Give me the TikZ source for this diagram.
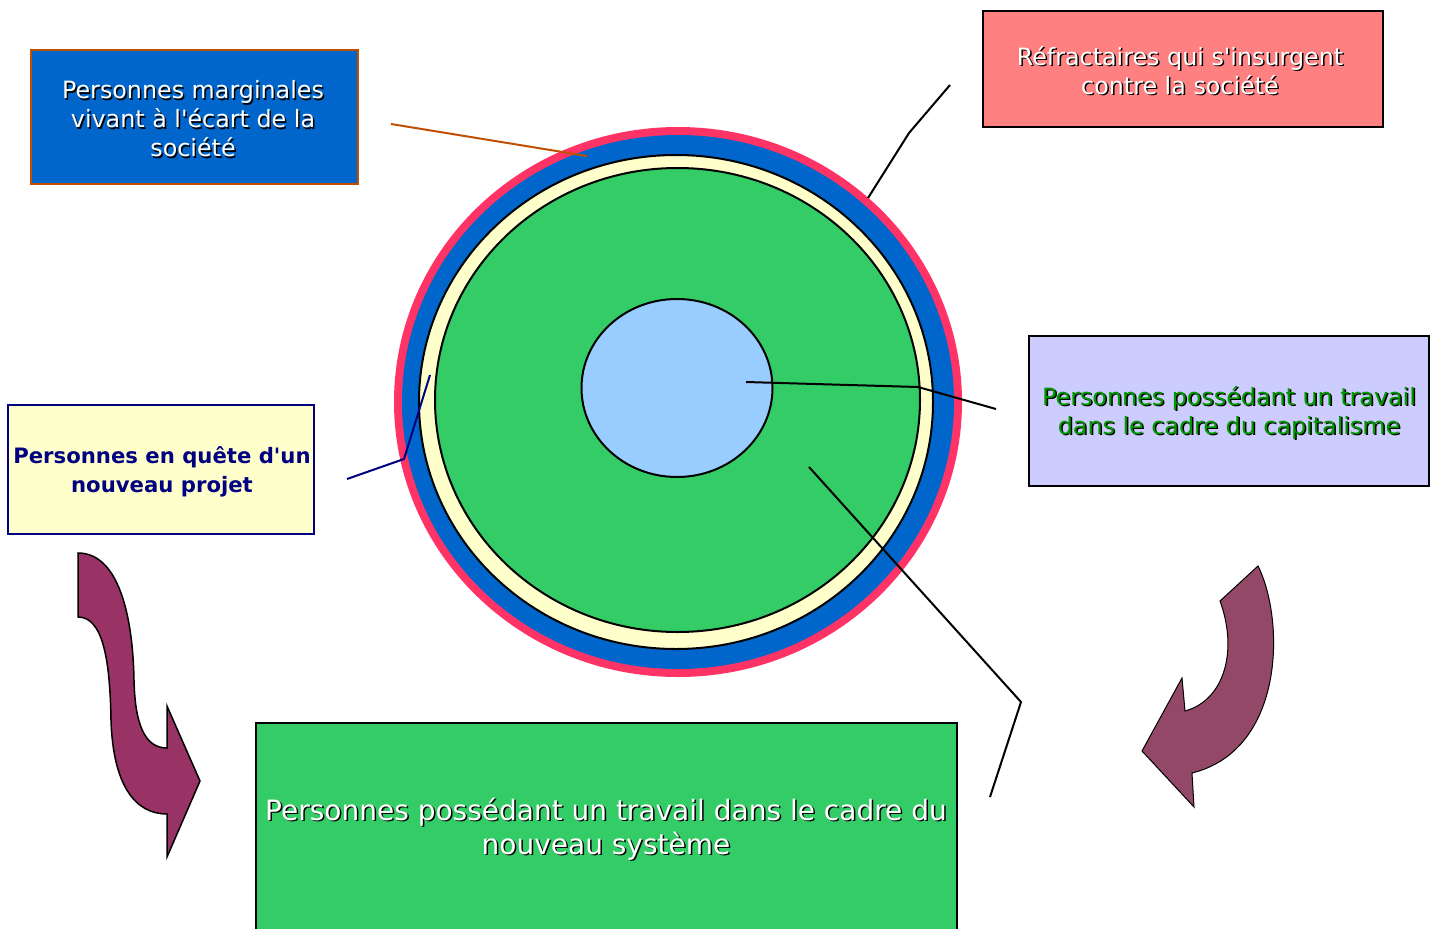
\documentclass[tikz,border=0pt]{standalone}
\usepackage{fontspec}
\setmainfont{DejaVu Sans}
\usetikzlibrary{shapes.geometric}
\definecolor{ringred}{HTML}{FF3366}
\definecolor{ringblue}{HTML}{0066CC}
\definecolor{ringyellow}{HTML}{FFFFCC}
\definecolor{ringgreen}{HTML}{33CC66}
\definecolor{corelight}{HTML}{99CCFF}
\definecolor{boxred}{HTML}{FF8080}
\definecolor{boxlav}{HTML}{CCCCFF}
\definecolor{brownline}{HTML}{C05000}
\definecolor{txtgreen}{HTML}{009900}
\definecolor{navy}{HTML}{000080}
\definecolor{arrowL}{HTML}{993366}
\definecolor{arrowR}{HTML}{944868}
\newcommand{\shtxt}[6]{% name, x, y, colour, font, text
  \node[txt, font=#5, text=black] (#1s) at (#2+1.5,#3+1.5) {#6};
  \node[txt, font=#5, text=#4] (#1) at (#2,#3) {#6};}
\newcommand{\sq}{\textquotesingle}
\begin{document}
\begin{tikzpicture}[x=1pt,y=-1pt,
  txt/.style={align=center, inner sep=0pt},
  boxstyle/.style={rectangle, draw, line width=2pt, inner sep=0pt},
  conn/.style={line width=2pt},
  ell/.style={ellipse, inner sep=0pt}]
\clip (0,0) rectangle (1436,929);
\fill[white] (0,0) rectangle (1436,929);

% ---- concentric circles
\node[ell, fill=ringred, minimum width=568, minimum height=550] (cred) at (678,402) {};
\node[ell, fill=ringblue, minimum width=552, minimum height=534] (cblue) at (678,402) {};
\node[ell, fill=ringyellow, draw=black, line width=2pt, minimum width=514, minimum height=494] (cyellow) at (676,402) {};
\node[ell, fill=ringgreen, draw=black, line width=2pt, minimum width=485, minimum height=464] (cgreen) at (677.5,400) {};
\node[ell, fill=corelight, draw=black, line width=2pt, minimum width=191, minimum height=178] (ccore) at (677,388) {};

% ---- boxes
\node[boxstyle, draw=brownline, fill=ringblue, minimum width=327, minimum height=134] (bmarg) at (194.5,117) {};
\node[boxstyle, draw=black, fill=boxred, minimum width=400, minimum height=116] (brefr) at (1183,69) {};
\node[boxstyle, draw=black, fill=boxlav, minimum width=400, minimum height=150] (bcap) at (1229,411) {};
\node[boxstyle, draw=navy, fill=ringyellow, minimum width=306, minimum height=129] (bquete) at (161,469.5) {};
\node[boxstyle, draw=black, fill=ringgreen, minimum width=701, minimum height=240] (bnouv) at (606.5,843) {};

% ---- texts
\shtxt{tmarg}{193}{119}{white}{\fontsize{23.8}{29}\selectfont}{Personnes marginales\\vivant à l\sq écart de la\\société}
\shtxt{trefr}{1180}{70.5}{white}{\fontsize{23.8}{29}\selectfont}{Réfractaires qui s\sq insurgent\\contre la société}
\shtxt{tcap}{1229}{412.5}{txtgreen}{\fontsize{23.8}{29}\selectfont}{Personnes possédant un travail\\dans le cadre du capitalisme}
\node[txt, font=\fontsize{21.2}{29}\selectfont\bfseries, text=navy] (tquete) at (162,471.5) {Personnes en quête d\sq un\\nouveau projet};
\shtxt{tnouv}{606}{829}{white}{\fontsize{28}{34}\selectfont}{Personnes possédant un travail dans le cadre du\\nouveau système}

% ---- connectors
\coordinate (m1) at (391,124); \coordinate (m2) at (587,156);
\draw[conn, draw=brownline] (m1) -- (m2);
\coordinate (r1) at (868,198); \coordinate (r2) at (909,133); \coordinate (r3) at (950,85);
\draw[conn] (r1) -- (r2) -- (r3);
\coordinate (c1) at (746,382); \coordinate (c2) at (918,387); \coordinate (c3) at (996,409);
\draw[conn] (c1) -- (c2) -- (c3);
\coordinate (q1) at (347,479); \coordinate (q2) at (404,459); \coordinate (q3) at (430,375);
\draw[conn, draw=navy] (q1) -- (q2) -- (q3);
\coordinate (n1) at (809,467); \coordinate (n2) at (1021,702); \coordinate (n3) at (990,797);
\draw[conn] (n1) -- (n2) -- (n3);

% ---- curved arrows
\draw[fill=arrowL, draw=black, line width=1.5pt, line join=miter]
  (78,553) .. controls (120,553) and (133,620) .. (134,680)
  .. controls (135,725) and (145,748) .. (167,748)
  -- (167,706) -- (200,781) -- (167,857) -- (167,814)
  .. controls (135,814) and (113,785) .. (111,720)
  .. controls (110,660) and (103,617) .. (78,617) -- cycle;
\draw[fill=arrowR, draw=black, line width=1pt, line join=miter]
  (1220,601) -- (1258,566)
  .. controls (1285,620) and (1285,750) .. (1192,773)
  -- (1194,807) -- (1142,751) -- (1182,678) -- (1185,711)
  .. controls (1225,700) and (1238,650) .. (1220,601) -- cycle;
\end{tikzpicture}
\end{document}
